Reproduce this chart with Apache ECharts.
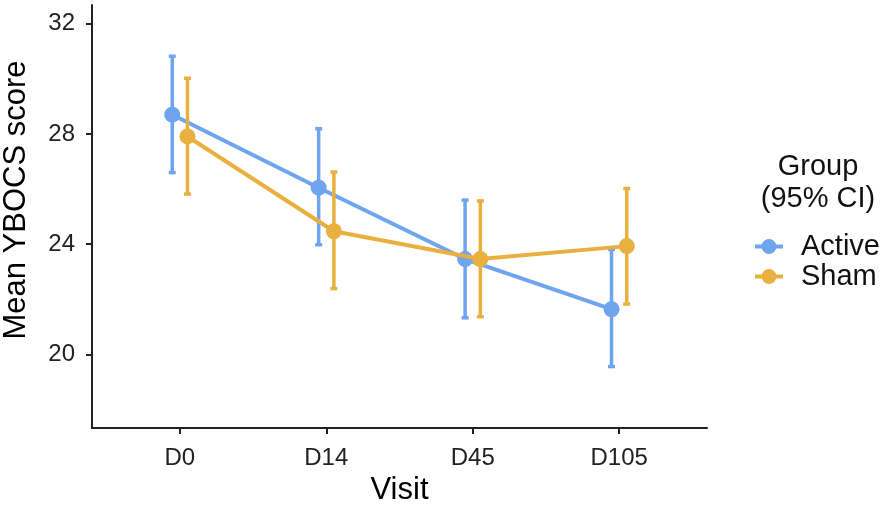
<!DOCTYPE html>
<html lang="en">
<head>
    <meta charset="UTF-8">
    <title>Mean YBOCS score by visit</title>
    <script src="https://cdn.jsdelivr.net/npm/echarts@6/dist/echarts.min.js"></script>
    <style>
        html, body { margin: 0; padding: 0; background: #fff; }
    </style>
</head>
<body>
<div id="main" style="width: 886px;height:511px;"></div>
<script>
    var visits = ['D0', 'D14', 'D45', 'D105'];
    var yTicks = [20, 24, 28, 32];
    // means and 95% CI
    var activeMean = [28.70, 26.05, 23.46, 21.64];
    var activeLow  = [26.59, 23.97, 21.32, 19.55];
    var activeHigh = [30.83, 28.20, 25.61, 23.82];
    var shamMean = [27.91, 24.47, 23.46, 23.93];
    var shamLow  = [25.81, 22.38, 21.36, 21.82];
    var shamHigh = [30.03, 26.63, 25.58, 26.03];
    var dodge = 0.052;

    var blue = '#6FA4EE';
    var orange = '#E9B040';
    var font = 'Liberation Sans, Arial, sans-serif';
    var legendIcon = 'path://M0,5.5 L28,5.5 L28,9.5 L0,9.5 Z M6.5,7.5 A7.5,7.5 0 1,1 21.5,7.5 A7.5,7.5 0 1,1 6.5,7.5 Z';

    function points(means, shift) {
        return means.map(function (m, i) { return [i + shift, m]; });
    }
    function bars(low, high, shift) {
        return low.map(function (l, i) { return [i + shift, l, high[i]]; });
    }
    function renderBar(color) {
        return function (params, api) {
            var top = api.coord([api.value(0), api.value(2)]);
            var bot = api.coord([api.value(0), api.value(1)]);
            var st = { stroke: color, lineWidth: 3.5 };
            return {
                type: 'group',
                children: [
                    { type: 'line', shape: { x1: top[0], y1: top[1], x2: bot[0], y2: bot[1] }, style: st },
                    { type: 'rect', shape: { x: top[0] - 3.5, y: top[1] - 1.5, width: 7, height: 3.5 }, style: { fill: color } },
                    { type: 'rect', shape: { x: bot[0] - 3.5, y: bot[1] - 2, width: 7, height: 3.5 }, style: { fill: color } }
                ]
            };
        };
    }

    var myChart = echarts.init(document.getElementById('main'));
    var option = {
        backgroundColor: '#fff',
        animation: false,
        textStyle: { fontFamily: font },
        grid: { left: 92, right: 179, top: 5, bottom: 77 },
        legend: {
            left: 755,
            top: 232,
            padding: 0,
            orient: 'vertical',
            itemWidth: 28,
            itemHeight: 15,
            itemGap: 1,
            icon: legendIcon,
            data: ['Active', 'Sham'],
            textStyle: { fontSize: 29, color: '#111', fontFamily: font, padding: [0, 0, 0, 13] }
        },
        graphic: [{
            type: 'text',
            x: 818,
            y: 183,
            style: {
                text: 'Group\n(95% CI)',
                font: '29px ' + font,
                fill: '#111',
                align: 'center',
                verticalAlign: 'middle',
                lineHeight: 32
            }
        }, {
            type: 'text',
            x: 16,
            y: 200,
            rotation: Math.PI / 2,
            style: {
                text: 'Mean YBOCS score',
                font: '31px ' + font,
                fill: '#000',
                align: 'center',
                verticalAlign: 'middle'
            }
        }],
        xAxis: {
            type: 'value',
            min: -0.6,
            max: 3.6,
            name: 'Visit',
            nameLocation: 'middle',
            nameGap: 47,
            nameTextStyle: { fontSize: 31, color: '#000', fontFamily: font },
            splitLine: { show: false },
            axisLine: { onZero: false, lineStyle: { color: '#222', width: 2 } },
            axisTick: { length: 6, lineStyle: { color: '#222', width: 2 }, customValues: [0, 1, 2, 3] },
            axisLabel: {
                customValues: [0, 1, 2, 3],
                margin: 18,
                fontSize: 24,
                color: '#222',
                formatter: function (v) { return visits[Math.round(v)]; }
            }
        },
        yAxis: {
            type: 'value',
            min: 17.33,
            max: 32.68,
            splitLine: { show: false },
            axisLine: { show: true, onZero: false, lineStyle: { color: '#222', width: 2 } },
            axisTick: { show: true, length: 6, lineStyle: { color: '#222', width: 2 }, customValues: yTicks },
            axisLabel: { customValues: yTicks, margin: 17, fontSize: 24, color: '#222' }
        },
        series: [
            {
                name: 'Active',
                type: 'line',
                data: points(activeMean, -dodge),
                symbol: 'circle',
                symbolSize: 16,
                color: blue,
                lineStyle: { width: 4, color: blue },
                itemStyle: { color: blue },
                z: 3
            },
            {
                name: 'ActiveCI',
                type: 'custom',
                data: bars(activeLow, activeHigh, -dodge),
                renderItem: renderBar(blue),
                encode: { x: 0, y: [1, 2] },
                z: 2
            },
            {
                name: 'Sham',
                type: 'line',
                data: points(shamMean, dodge),
                symbol: 'circle',
                symbolSize: 16,
                color: orange,
                lineStyle: { width: 4, color: orange },
                itemStyle: { color: orange },
                z: 5
            },
            {
                name: 'ShamCI',
                type: 'custom',
                data: bars(shamLow, shamHigh, dodge),
                renderItem: renderBar(orange),
                encode: { x: 0, y: [1, 2] },
                z: 4
            }
        ]
    };
    myChart.setOption(option);
</script>
</body>
</html>
